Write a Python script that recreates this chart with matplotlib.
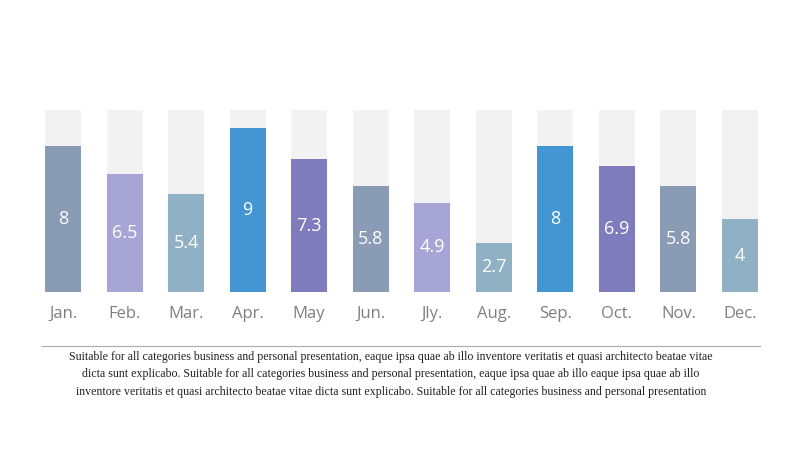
import matplotlib
matplotlib.use("Agg")
import matplotlib.pyplot as plt
from matplotlib.lines import Line2D

months = ["Jan.", "Feb.", "Mar.", "Apr.", "May", "Jun.", "Jly.", "Aug.", "Sep.", "Oct.", "Nov.", "Dec."]
values = [8, 6.5, 5.4, 9, 7.3, 5.8, 4.9, 2.7, 8, 6.9, 5.8, 4]
max_value = 10
colors = ["#8a9bb5", "#a7a5d5", "#90b1c3", "#4396d1", "#7f7cbe", "#8a9bb5",
          "#a7a5d5", "#90b1c3", "#4396d1", "#7f7cbe", "#8a9bb5", "#90b1c3"]
caption_lines = [
    "Suitable for all categories business and personal presentation, eaque ipsa quae ab illo inventore veritatis et quasi architecto beatae vitae",
    "dicta sunt explicabo. Suitable for all categories business and personal presentation, eaque ipsa quae ab illo eaque ipsa quae ab illo",
    "inventore veritatis et quasi architecto beatae vitae dicta sunt explicabo. Suitable for all categories business and personal presentation",
]

fig = plt.figure(figsize=(8, 4.5), dpi=100)
fig.patch.set_facecolor("white")
ax = fig.add_axes([32.25 / 800, 158 / 450, 738.5 / 800, 182 / 450])
x = list(range(len(months)))
w = 36 / 61.5
ax.bar(x, [max_value] * len(x), width=w, color="#f2f2f2", zorder=1)
ax.bar(x, values, width=w, color=colors, zorder=2)
for xi, v in zip(x, values):
    ax.text(xi, v / 2, f"{v:g}", ha="center", va="center", color="white",
            fontsize=13, family="Open Sans", zorder=3)
ax.set_xlim(-0.5, len(x) - 0.5)
ax.set_ylim(0, max_value)
ax.set_xticks(x)
ax.set_xticklabels(months, fontsize=12, family="Open Sans", color="#7f7f7f")
ax.tick_params(axis="x", length=0, pad=10)
ax.set_yticks([])
for s in ax.spines.values():
    s.set_visible(False)
ax.set_facecolor("none")

fig.add_artist(Line2D([42 / 800, 760 / 800], [1 - 346 / 450, 1 - 346 / 450],
                      color="#aaaaaa", lw=0.8, transform=fig.transFigure))

# fit first caption line to ~644 px width
renderer = fig.canvas.get_renderer()
probe = fig.text(0, 0, caption_lines[0], fontsize=10, family="Liberation Serif")
pw = probe.get_window_extent(renderer).width
probe.remove()
fs = 10 * 644 / pw
for i, line in enumerate(caption_lines):
    fig.text(391 / 800, 1 - (357 + 17.5 * i) / 450, line, ha="center", va="center",
             fontsize=fs, family="Liberation Serif", color="#222222")

fig.savefig("out.png", dpi=100, facecolor="white")
